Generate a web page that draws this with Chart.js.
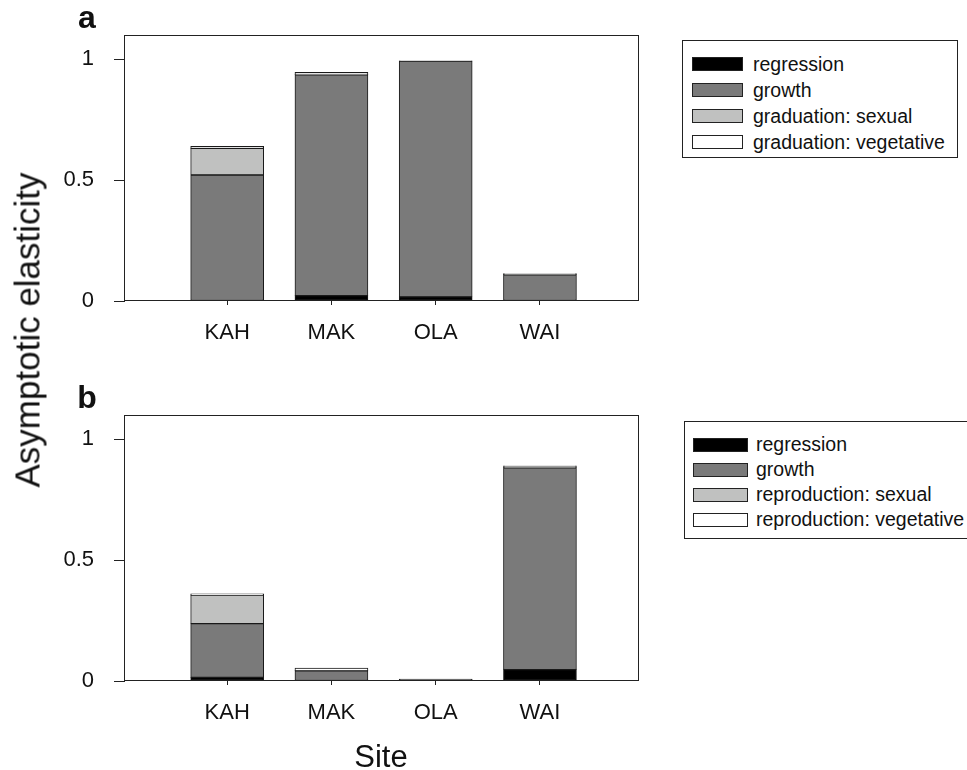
<!DOCTYPE html>
<html>
<head>
<meta charset="utf-8">
<script src="https://cdn.jsdelivr.net/npm/chart.js@4.4.0/dist/chart.umd.min.js"></script>
<style>
  body { margin: 0; background: #fff; font-family: 'Liberation Sans', Arial, sans-serif; color: #111; }
  #wrap { position: relative; width: 967px; height: 770px; overflow: hidden; }
  .panel { position: absolute; left: 0; width: 645px; height: 380px; }
  .legend { position: absolute; border: 1px solid #222; box-sizing: border-box; font-size: 19.5px; white-space: nowrap; }
  .legend .row { display: flex; align-items: center; }
  .legend .sw { box-sizing: border-box; border: 1px solid #222; height: 14px; }
  .txt { position: absolute; line-height: 1; white-space: nowrap; }
</style>
</head>
<body>
<div id="wrap">
  <div class="panel" style="top:0"><canvas id="chartA"></canvas></div>
  <div class="panel" style="top:380px"><canvas id="chartB"></canvas></div>
  <div id="legendA" class="legend" style="left:682px; top:40px; width:276px; height:118px; padding:10px 0 0 9px;"></div>
  <div id="legendB" class="legend" style="left:684px; top:421px; width:300px; height:118px; padding:10px 0 0 8px;"></div>
  <div class="txt" style="left:87px; top:1px; font-size:32px; font-weight:bold; transform:translateX(-50%);">a</div>
  <div class="txt" style="left:87px; top:381px; font-size:32px; font-weight:bold; transform:translateX(-50%);">b</div>
  <div class="txt" style="left:381px; top:741px; font-size:31px; transform:translateX(-50%);">Site</div>
  <div class="txt" style="left:27px; top:330px; font-size:35px; transform:translate(-50%,-50%) rotate(-90deg);">Asymptotic elasticity</div>
</div>
<script>
const sites = ['KAH', 'MAK', 'OLA', 'WAI'];
const seriesA = ['regression', 'growth', 'graduation: sexual', 'graduation: vegetative'];
const seriesB = ['regression', 'growth', 'reproduction: sexual', 'reproduction: vegetative'];
const colors = ['#000000', '#7a7a7a', '#c0c1c0', '#ffffff'];
const yTicks = [0, 0.5, 1];

// panel a
const regressionA = [0, 0.022, 0.017, 0];
const growthA = [0.521, 0.913, 0.975, 0.108];
const sexualA = [0.11, 0.002, 0, 0.003];
const vegetativeA = [0.009, 0.009, 0.001, 0.002];

// panel b
const regressionB = [0.015, 0.002, 0.005, 0.047];
const growthB = [0.222, 0.040, 0.003, 0.835];
const sexualB = [0.118, 0.001, 0, 0.005];
const vegetativeB = [0.005, 0.010, 0, 0.003];

Chart.defaults.font.family = "'Liberation Sans', Arial, sans-serif";
Chart.defaults.color = '#111';

// draws the closed frame round the plot area
const frame = {
  id: 'frame',
  afterDraw(chart) {
    const a = chart.chartArea, c = chart.ctx;
    c.save();
    c.strokeStyle = '#222';
    c.lineWidth = 1;
    c.strokeRect(Math.round(a.left) - 0.5, Math.round(a.top) + 0.5,
      Math.round(a.right - a.left), Math.round(a.bottom - a.top) - 1);
    c.restore();
  }
};

function makeChart(id, names, values) {
  return new Chart(document.getElementById(id), {
    type: 'bar',
    data: {
      datasets: names.map((n, i) => ({
        label: n,
        data: values[i].map((v, j) => ({ x: j, y: v })),
        backgroundColor: colors[i],
        borderColor: '#1a1a1a',
        borderWidth: 1,
        borderSkipped: false,
        barThickness: 73
      }))
    },
    options: {
      responsive: true,
      maintainAspectRatio: false,
      animation: false,
      layout: { padding: { top: 35, right: 6, left: 0, bottom: 0 } },
      plugins: { legend: { display: false }, tooltip: { enabled: false } },
      scales: {
        x: {
          type: 'linear',
          stacked: true,
          offset: false,
          min: -0.98,
          max: 3.95,
          afterFit: s => { s.height = 79; },
          afterBuildTicks: s => { s.ticks = sites.map((_, i) => ({ value: i })); },
          ticks: { callback: v => sites[v] ?? '', padding: 15, font: { size: 22 }, maxRotation: 0 },
          grid: { offset: false, drawOnChartArea: false, tickLength: 4, tickColor: '#222' },
          border: { display: false }
        },
        y: {
          stacked: true,
          min: 0,
          max: 1.1,
          afterFit: s => { s.width = 125; },
          afterBuildTicks: s => { s.ticks = yTicks.map(v => ({ value: v })); },
          ticks: { callback: v => String(v), padding: 20, font: { size: 22 } },
          grid: { drawOnChartArea: false, tickLength: 11, tickColor: '#222' },
          border: { display: false }
        }
      }
    },
    plugins: [frame]
  });
}

function buildLegend(chart, el, rowH, swW, gap) {
  chart.data.datasets.forEach(ds => {
    const row = document.createElement('div');
    row.className = 'row';
    row.style.height = rowH + 'px';
    const sw = document.createElement('span');
    sw.className = 'sw';
    sw.style.width = swW + 'px';
    sw.style.background = ds.backgroundColor;
    sw.style.marginRight = gap + 'px';
    const t = document.createElement('span');
    t.textContent = ds.label;
    row.appendChild(sw);
    row.appendChild(t);
    el.appendChild(row);
  });
}

const chartA = makeChart('chartA', seriesA, [regressionA, growthA, sexualA, vegetativeA]);
const chartB = makeChart('chartB', seriesB, [regressionB, growthB, sexualB, vegetativeB]);
buildLegend(chartA, document.getElementById('legendA'), 26, 51, 10);
buildLegend(chartB, document.getElementById('legendB'), 25, 55, 8);
</script>
</body>
</html>
